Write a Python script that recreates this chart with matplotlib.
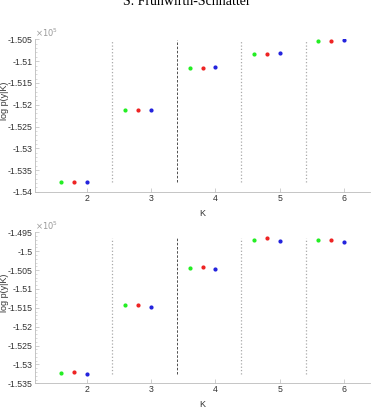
import matplotlib.pyplot as plt
from matplotlib.ticker import FuncFormatter, MultipleLocator
import numpy as np

plt.rcParams['font.family'] = ['Liberation Sans', 'DejaVu Sans']

# log marginal likelihoods (units of 1e5), three estimators per K
K = [2, 3, 4, 5, 6]
offsets = [-0.4, -0.2, 0.0]
colors = ['#22ee22', '#ee2222', '#2222dd']

top_green = [-1.5377, -1.5213, -1.5115, -1.5083, -1.5053]
top_red = [-1.5377, -1.5213, -1.5115, -1.5083, -1.5053]
top_blue = [-1.5377, -1.5212, -1.5114, -1.5082, -1.5052]

bot_green = [-1.5322, -1.5143, -1.5044, -1.4969, -1.4970]
bot_red = [-1.5321, -1.5142, -1.5041, -1.4965, -1.4969]
bot_blue = [-1.5325, -1.5147, -1.5048, -1.4972, -1.4976]

top_ylim = (-1.54, -1.505)
bot_ylim = (-1.535, -1.495)
top_ticks = [-1.54, -1.535, -1.53, -1.525, -1.52, -1.515, -1.51, -1.505]
bot_ticks = [-1.535, -1.53, -1.525, -1.52, -1.515, -1.51, -1.505, -1.5, -1.495]

fig = plt.figure(figsize=(3.73, 4.09), dpi=100)
fig.text(0.5, 1 - 5 / 409, 'S. Frühwirth-Schnatter', ha='center', va='baseline',
         family='Liberation Serif', fontsize=10)

axes_pos = [[0.094, 0.531, 0.898, 0.3726], [0.094, 0.0628, 0.898, 0.369]]
panels = [(top_green, top_red, top_blue, top_ylim, top_ticks),
          (bot_green, bot_red, bot_blue, bot_ylim, bot_ticks)]

for pos, (g, r, b, ylim, ticks) in zip(axes_pos, panels):
    ax = fig.add_axes(pos)
    series = [g, r, b]
    allv = np.array(series)
    lo, hi = allv.min(), allv.max()
    for k in K[:-1]:
        if k == 3:
            ax.plot([k + 0.4, k + 0.4], [lo, hi], color='#333333', ls=(0, (3, 2)), lw=0.6)
        else:
            ax.plot([k + 0.4, k + 0.4], [lo, hi], color='#aaaaaa', ls=':', lw=0.9)
    for s, off, c in zip(series, offsets, colors):
        ax.plot(np.array(K) + off, s, '.', color=c, ms=4)
    ax.set_xlim(1.2, 6.4)
    ax.set_ylim(*ylim)
    ax.set_xticks([2, 3, 4, 5, 6])
    ax.set_yticks(ticks)
    ax.yaxis.set_minor_locator(MultipleLocator(0.001))
    ax.yaxis.set_major_formatter(FuncFormatter(lambda v, p: '%g' % round(v, 4)))
    for side in ['top', 'right']:
        ax.spines[side].set_visible(False)
    for side in ['left', 'bottom']:
        ax.spines[side].set_color('#bbbbbb')
        ax.spines[side].set_linewidth(0.6)
    ax.tick_params(direction='in', length=3, width=0.5, color='#bbbbbb',
                   labelsize=6.3, labelcolor='#333333', pad=1.5)
    ax.tick_params(which='minor', direction='in', length=1.5, width=0.4, color='#bbbbbb')
    ax.set_xlabel('K', fontsize=6.5, color='#333333', labelpad=2)
    ax.xaxis.set_label_coords(0.5, -0.11)
    ax.set_ylabel('log p(y|K)', fontsize=6.5, color='#333333')
    ax.yaxis.set_label_coords(-0.078, 0.6)
    ax.text(0.0, 1.0, r'$\times10^5$', transform=ax.transAxes, fontsize=6,
            color='#999999', ha='left', va='bottom', family='DejaVu Sans')

fig.savefig('out.png', dpi=100)
